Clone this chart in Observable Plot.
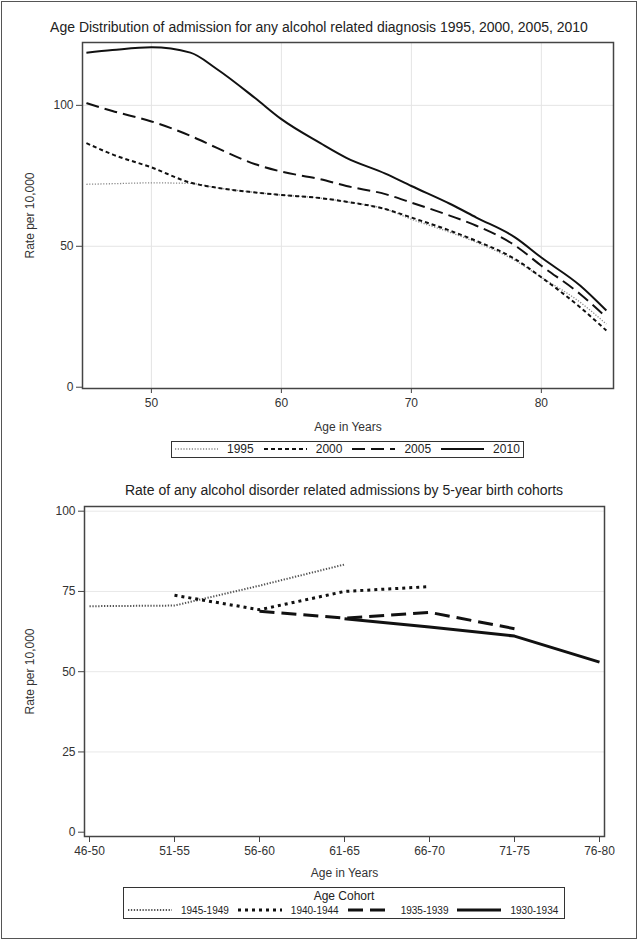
<!DOCTYPE html>
<html><head><meta charset="utf-8">
<script src="https://cdn.jsdelivr.net/npm/d3@7"></script>
<script src="https://cdn.jsdelivr.net/npm/@observablehq/plot@0.6"></script>
<style>
body{margin:0;background:#fff;font-family:"Liberation Sans",Arial,sans-serif;color:#222;}
#page{position:relative;width:639px;height:941px;overflow:hidden;background:#fff}
#border{position:absolute;left:1px;top:1px;width:636px;height:938px;border:1.5px solid #555;box-sizing:border-box}
.abs{position:absolute}
.title{position:absolute;font-size:14px;white-space:nowrap;transform:translateX(-50%);color:#222}
.legend{position:absolute;border:1.5px solid #333;box-sizing:border-box;background:#fff}
.row{position:absolute;display:flex;align-items:center;white-space:nowrap}
.row svg{display:block}
</style>
</head><body>
<div id="page">
  <div id="border"></div>
  <div id="plot1" class="abs" style="left:0;top:0"></div>
  <div id="plot2" class="abs" style="left:0;top:470px"></div>
  <div class="title" style="left:319px;top:19px">Age Distribution of admission for any alcohol related diagnosis 1995, 2000, 2005, 2010</div>
  <div class="title" style="left:344px;top:482px">Rate of any alcohol disorder related admissions by 5-year birth cohorts</div>
  <div id="legend1" class="legend" style="left:171px;top:441px;width:353px;height:17px"></div>
  <div id="legend2" class="legend" style="left:123px;top:887px;width:442px;height:32px"></div>
</div>
<script>
// ---------- Top chart data ----------
const ages = [45,47,50,53,55,58,60,63,65,68,70,73,75,78,80,83,85];
const years = ["1995","2000","2005","2010"];
const rate1995 = [72.0,72.2,72.5,72.3,70.8,69.1,68.2,67.1,65.8,63.2,59.6,54.9,51.4,44.9,39.0,30.1,22.4];
const rate2000 = [86.6,82.6,78.0,72.6,70.8,69.1,68.2,67.1,65.8,63.2,60.2,55.5,51.9,45.4,39.0,28.3,20.1];
const rate2005 = [100.8,98.0,94.3,89.2,85.0,79.1,76.5,73.8,71.4,68.5,65.5,60.8,57.3,50.2,43.1,33.0,24.8];
const rate2010 = [118.7,119.6,120.6,118.7,113.0,102.5,95.1,86.6,81.4,75.8,71.4,65.0,60.2,53.1,46.0,36.0,27.2];
const topTicksX = [50,60,70,80];
const topTicksY = [0,50,100];

// ---------- Bottom chart data ----------
const ageGroups = ["46-50","51-55","56-60","61-65","66-70","71-75","76-80"];
const cohorts = ["1945-1949","1940-1944","1935-1939","1930-1934"];
const c1945 = [70.4,70.6,76.8,83.4,null,null,null];
const c1940 = [null,73.8,69.3,75.0,76.5,null,null];
const c1935 = [null,null,68.8,66.7,68.5,63.4,null];
const c1930 = [null,null,null,66.5,63.9,61.1,53.0];
const bottomTicksY = [0,25,50,75,100];

// ---------- styles ----------
const topStyles = {
  "1995": {stroke:"#888", strokeWidth:1.3, dash:"1.2,1.6"},
  "2000": {stroke:"#111", strokeWidth:2, dash:"4,3"},
  "2005": {stroke:"#111", strokeWidth:2, dash:"13,6"},
  "2010": {stroke:"#111", strokeWidth:2, dash:null}
};
const botStyles = {
  "1945-1949": {stroke:"#555", strokeWidth:2, dash:"1.3,1.6"},
  "1940-1944": {stroke:"#111", strokeWidth:3, dash:"3,4"},
  "1935-1939": {stroke:"#111", strokeWidth:3, dash:"15,7"},
  "1930-1934": {stroke:"#111", strokeWidth:3, dash:null}
};

const topSeries = {"1995":rate1995,"2000":rate2000,"2005":rate2005,"2010":rate2010};
const topData = years.flatMap(y => ages.map((a,i) => ({age:a, rate:topSeries[y][i], year:y})));
const botSeries = {"1945-1949":c1945,"1940-1944":c1940,"1935-1939":c1935,"1930-1934":c1930};
const botData = cohorts.flatMap(c => ageGroups.map((g,i) => ({group:g, rate:botSeries[c][i], cohort:c}))).filter(d => d.rate != null);

const font = {fontFamily:"'Liberation Sans', Arial, sans-serif", fontSize:"12px", color:"#333", background:"transparent", overflow:"visible"};

const p1 = Plot.plot({
  width: 639, height: 435,
  marginLeft: 82, marginRight: 26, marginTop: 42, marginBottom: 47,
  style: font,
  x: {domain:[44.7, 85.55]},
  y: {domain:[-0.45, 122.3]},
  marks: [
    Plot.gridX(topTicksX, {stroke:"#e4e4e4", strokeOpacity:1}),
    Plot.gridY([50,100], {stroke:"#e4e4e4", strokeOpacity:1}),
    ...years.map(y => Plot.line(topData.filter(d => d.year === y), {
      x:"age", y:"rate", curve:"monotone-x",
      stroke: topStyles[y].stroke, strokeWidth: topStyles[y].strokeWidth,
      strokeDasharray: topStyles[y].dash, strokeLinecap:"butt"
    })),
    Plot.frame({stroke:"#444", strokeWidth:1.5}),
    Plot.axisX(topTicksX, {tickSize:5, tickPadding:5, stroke:"#444", fontSize:12, label:"Age in Years", labelAnchor:"center", labelArrow:"none", labelOffset:42, fill:"#333"}),
    Plot.axisY(topTicksY, {tickSize:6, tickPadding:3, stroke:"#444", fontSize:12, label:"Rate per 10,000", labelAnchor:"center", labelArrow:"none", labelOffset:57, fill:"#333"})
  ]
});
document.getElementById("plot1").appendChild(p1);

const p2 = Plot.plot({
  width: 639, height: 415,
  marginLeft: 84, marginRight: 35, marginTop: 36, marginBottom: 49,
  style: font,
  x: {type:"point", domain: ageGroups, padding:0, insetLeft:4, insetRight:5},
  y: {domain:[-1.34, 101.46]},
  marks: [
    Plot.gridY([25,50,75,100], {stroke:"#e8e8e8", strokeOpacity:1}),
    ...cohorts.map(c => Plot.line(botData.filter(d => d.cohort === c), {
      x:"group", y:"rate",
      stroke: botStyles[c].stroke, strokeWidth: botStyles[c].strokeWidth,
      strokeDasharray: botStyles[c].dash, strokeLinecap:"butt"
    })),
    Plot.frame({stroke:"#444", strokeWidth:1.5}),
    Plot.axisX({tickSize:6, tickPadding:4, stroke:"#444", fontSize:12, label:"Age in Years", labelAnchor:"center", labelArrow:"none", labelOffset:40, fill:"#333"}),
    Plot.axisY(bottomTicksY, {tickSize:6, tickPadding:3, stroke:"#444", fontSize:12, label:"Rate per 10,000", labelAnchor:"center", labelArrow:"none", labelOffset:59, fill:"#333"})
  ]
});
document.getElementById("plot2").appendChild(p2);

// ---------- legends ----------
function sample(st, w) {
  const ns = "http://www.w3.org/2000/svg";
  const svg = document.createElementNS(ns, "svg");
  svg.setAttribute("width", w); svg.setAttribute("height", 8);
  const l = document.createElementNS(ns, "line");
  l.setAttribute("x1", 0); l.setAttribute("x2", w); l.setAttribute("y1", 4); l.setAttribute("y2", 4);
  l.setAttribute("stroke", st.stroke); l.setAttribute("stroke-width", st.strokeWidth);
  if (st.dash) l.setAttribute("stroke-dasharray", st.dash);
  svg.appendChild(l);
  return svg;
}
function buildRow(container, names, styles, opts) {
  const row = document.createElement("div");
  row.className = "row";
  row.style.left = opts.left + "px"; row.style.top = opts.top + "px"; row.style.height = opts.h + "px";
  names.forEach((n, i) => {
    const s = sample(styles[n], opts.sw);
    row.appendChild(s);
    const t = document.createElement("span");
    t.textContent = n;
    t.style.fontSize = opts.fs + "px";
    t.style.color = "#222";
    t.style.marginLeft = opts.gap + "px";
    if (i < names.length - 1) t.style.marginRight = opts.between + "px";
    row.appendChild(t);
  });
  container.appendChild(row);
}
const lg1 = document.getElementById("legend1");
buildRow(lg1, years, topStyles, {left:3, top:0, h:14, sw:43, fs:12, gap:9, between:10});
const lg2 = document.getElementById("legend2");
const ttl = document.createElement("div");
ttl.textContent = "Age Cohort";
ttl.style.cssText = "position:absolute;left:0;right:0;top:1px;text-align:center;font-size:12px;color:#222";
lg2.appendChild(ttl);
buildRow(lg2, cohorts, botStyles, {left:4, top:15, h:14, sw:44, fs:10, gap:9, between:9});
</script>
</body></html>
